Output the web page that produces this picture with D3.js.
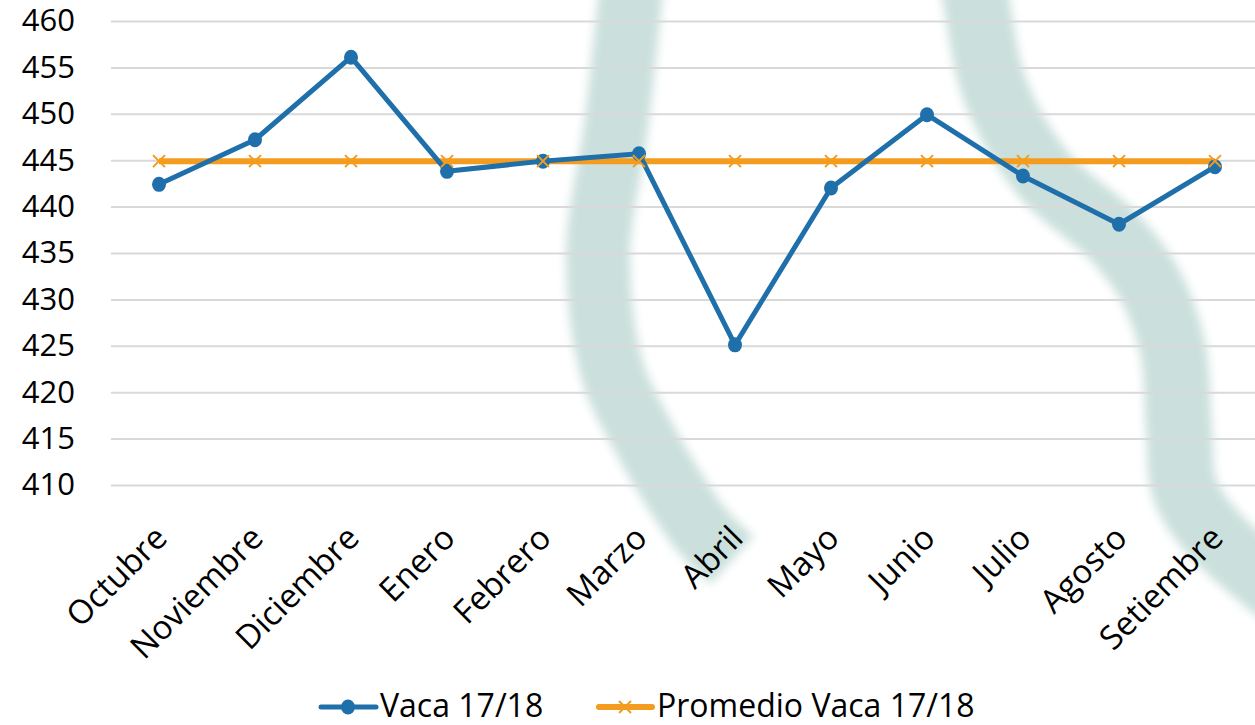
<!DOCTYPE html>
<html>
<head>
<meta charset="utf-8">
<script src="https://cdn.jsdelivr.net/npm/d3@7"></script>
<style>
  html, body { margin: 0; padding: 0; background: #fff; }
  svg { display: block; font-family: "Open Sans", "Noto Sans", sans-serif; }
</style>
</head>
<body>
<svg id="grafico" width="1255" height="725"></svg>
<script>
// datos
var meses = ["Octubre", "Noviembre", "Diciembre", "Enero", "Febrero", "Marzo",
             "Abril", "Mayo", "Junio", "Julio", "Agosto", "Setiembre"];
var vaca = [442.4, 447.2, 456.1, 443.8, 444.9, 445.7, 425.1, 442.0, 449.9, 443.3, 438.1, 444.3];
var promedio = [444.9, 444.9, 444.9, 444.9, 444.9, 444.9, 444.9, 444.9, 444.9, 444.9, 444.9, 444.9];
var yTicks = [410, 415, 420, 425, 430, 435, 440, 445, 450, 455, 460];
var leyenda = ["Vaca 17/18", "Promedio Vaca 17/18"];

var AZUL = "#1f6fab";
var NARANJA = "#f39c1f";

var svg = d3.select("#grafico");
var WIDTH = 1255, HEIGHT = 725;
var MARGINS = { top: 21, left: 111, right: 1263, bottom: 485 };

// marca de agua de fondo (detras de la cuadricula)
var defs = svg.append("defs");
defs.append("filter").attr("id", "blur")
  .attr("x", "-20%").attr("y", "-20%").attr("width", "140%").attr("height", "140%")
  .append("feGaussianBlur").attr("stdDeviation", 5);

var fondo = svg.append("g").attr("filter", "url(#blur)");
var curva = d3.line().curve(d3.curveCatmullRom);
fondo.append("path")
  .attr("d", curva([[634, -40], [630, 0], [616, 127], [598, 253], [612, 370], [645, 440], [668, 480], [700, 528], [732, 560]]))
  .attr("stroke", "#cbe0dc").attr("stroke-width", 64).attr("fill", "none");
fondo.append("path")
  .attr("d", curva([[968, -40], [976, 0], [995, 90], [1045, 176], [1112, 235], [1150, 285], [1173, 350], [1179, 430], [1185, 490], [1215, 535], [1290, 600]]))
  .attr("stroke", "#cbe0dc").attr("stroke-width", 66).attr("fill", "none");

// escalas
var xScale = d3.scaleBand().domain(meses).range([MARGINS.left, MARGINS.right]);
var yScale = d3.scaleLinear().domain([410, 460]).range([MARGINS.bottom, MARGINS.top]);
function cx(m) { return xScale(m) + xScale.bandwidth() / 2; }

// lineas de cuadricula
var yAxis = d3.axisLeft(yScale).tickValues(yTicks).tickSize(-(MARGINS.right - MARGINS.left)).tickPadding(36);
var gy = svg.append("g")
  .attr("transform", "translate(" + MARGINS.left + ",0)")
  .call(yAxis);
gy.select(".domain").remove();
gy.selectAll(".tick line").attr("stroke", "#d9d9d9").attr("stroke-width", 2);
gy.selectAll(".tick text").attr("font-size", 31).attr("fill", "#000").attr("font-family", "'Open Sans', sans-serif");

// eje x
var xAxis = d3.axisBottom(xScale).tickSize(0).tickPadding(0);
var gx = svg.append("g")
  .attr("transform", "translate(0," + MARGINS.bottom + ")")
  .call(xAxis);
gx.select(".domain").remove();
gx.selectAll(".tick text")
  .attr("font-size", 33).attr("fill", "#000").attr("font-family", "'Open Sans', sans-serif")
  .attr("text-anchor", "end")
  .attr("dy", 0)
  .attr("transform", "translate(10,55) rotate(-45)");

// serie promedio
var linea = d3.line()
  .x(function(d, i){ return cx(meses[i]); })
  .y(function(d){ return yScale(d); });

svg.append("path")
  .attr("d", linea(promedio))
  .attr("stroke", NARANJA).attr("stroke-width", 6).attr("fill", "none");

// serie vaca
svg.append("path")
  .attr("d", linea(vaca))
  .attr("stroke", AZUL).attr("stroke-width", 5).attr("fill", "none").attr("stroke-linejoin", "round");

svg.selectAll(".punto")
  .data(vaca).enter().append("ellipse")
  .attr("class", "punto")
  .attr("cx", function(d, i){ return cx(meses[i]); })
  .attr("cy", function(d){ return yScale(d); })
  .attr("rx", 7).attr("ry", 7.5)
  .attr("fill", AZUL);

// marcadores x del promedio (encima)
function cruz(g, x, y, s) {
  g.append("path")
    .attr("d", "M" + (x - s) + "," + (y - s) + "L" + (x + s) + "," + (y + s) + "M" + (x - s) + "," + (y + s) + "L" + (x + s) + "," + (y - s))
    .attr("stroke", NARANJA).attr("stroke-width", 2).attr("fill", "none");
}
var gc = svg.append("g");
promedio.forEach(function(d, i){ cruz(gc, cx(meses[i]), yScale(d), 6); });

// leyenda
var ly = 707;
var gl = svg.append("g");
gl.append("line").attr("x1", 321).attr("x2", 376).attr("y1", ly).attr("y2", ly)
  .attr("stroke", AZUL).attr("stroke-width", 5).attr("stroke-linecap", "round");
gl.append("ellipse").attr("cx", 348).attr("cy", ly).attr("rx", 7).attr("ry", 7.5).attr("fill", AZUL);
gl.append("text").attr("x", 380).attr("y", 717).attr("font-size", 32).text(leyenda[0]);

gl.append("line").attr("x1", 599).attr("x2", 652).attr("y1", ly).attr("y2", ly)
  .attr("stroke", NARANJA).attr("stroke-width", 6).attr("stroke-linecap", "round");
cruz(gl, 625, ly, 6);
gl.append("text").attr("x", 657).attr("y", 717).attr("font-size", 32).text(leyenda[1]);
</script>
</body>
</html>
